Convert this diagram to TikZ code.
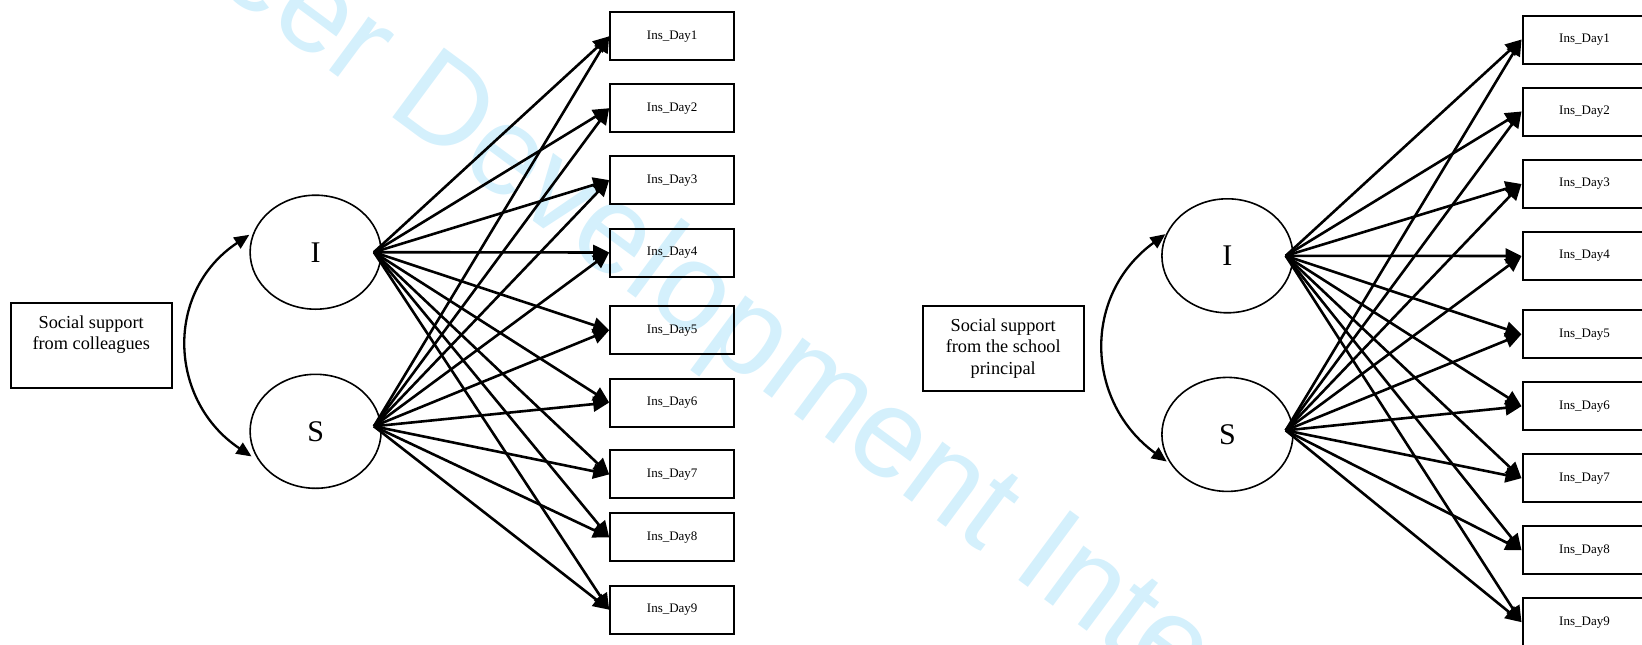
\documentclass[tikz,border=0pt]{standalone}
\usepackage{fontspec}
\setmainfont{Liberation Serif}
\newfontfamily\wmfont{Liberation Sans}
\usetikzlibrary{arrows.meta,shapes.geometric}
\definecolor{wmcyan}{RGB}{212,240,252}
\begin{document}
\begin{tikzpicture}[x=1pt,y=-1pt,
  latent/.style={ellipse,draw,line width=1.6pt,inner sep=0pt,minimum width=131pt,minimum height=114pt,font=\fontsize{30}{30}\selectfont},
  obs/.style={rectangle,draw,line width=2pt,inner sep=0pt,minimum width=124pt,minimum height=48pt,font=\fontsize{13}{13}\selectfont},
  covbox/.style={rectangle,draw,line width=2pt,inner sep=0pt,minimum width=161pt,minimum height=85pt,align=center,font=\fontsize{18.3}{21.2}\selectfont},
  load/.style={-{Triangle[length=16pt,width=15pt]},line width=2.6pt},
  corr/.style={{Triangle[length=15pt,width=13pt]}-{Triangle[length=15pt,width=13pt]},line width=2.3pt},
  watermark/.style={text=wmcyan,font=\wmfont\fontsize{126}{126}\selectfont,anchor=base west,rotate=-36.5,inner sep=0pt}
]
\useasboundingbox (0,0) rectangle (1642,645);
\clip (0,0) rectangle (1642,645);
\node[watermark] (wm) at (46.8,-138.7) {Career Development International};

% ---------- left panel ----------
\node[covbox] (Lsoc) at (91.2,345.4) {Social support\\from colleagues\\\phantom{p}};
\node[latent] (LI) at (315.6,252.2) {I};
\node[latent] (LS) at (315.6,431.3) {S};
\foreach \i/\y in {1/36.3,2/108.2,3/180.1,4/252.5,5/330.2,6/402.5,7/474.4,8/537.3,9/609.7}
  \node[obs] (Lb\i) at (672.2,\y) {Ins\_Day\i};
\coordinate (LIs) at ([xshift=-8pt]LI.east);
\coordinate (LSs) at ([xshift=-8pt,yshift=5pt]LS.east);
\foreach \i in {1,...,9}{
  \draw[load] (LIs) -- (Lb\i.west);
  \draw[load] (LSs) -- (Lb\i.west);
}
\draw[corr,shorten <=5pt,shorten >=9pt] (LI.162) .. controls +(-90,60) and +(-90,-60) .. (LS.208);

% ---------- right panel ----------
\node[covbox] (Rsoc) at (1003.2,348.4) {Social support\\from the school\\principal};
\node[latent] (RI) at (1227.4,255.8) {I};
\node[latent] (RS) at (1227.4,434.4) {S};
\foreach \i/\y in {1/39.5,2/111.5,3/184,4/256,5/334.2,6/406.2,7/478.2,8/550.2,9/622.2}
  \node[obs] (Rb\i) at (1584.5,\y) {Ins\_Day\i};
\coordinate (RIs) at ([xshift=-8pt]RI.east);
\coordinate (RSs) at ([xshift=-8pt,yshift=4pt]RS.east);
\foreach \i in {1,...,9}{
  \draw[load] (RIs) -- (Rb\i.west);
  \draw[load] (RSs) -- (Rb\i.west);
}
\draw[corr,shorten <=1pt,shorten >=5pt] (RI.160) .. controls +(-85,62) and +(-85,-62) .. (RS.208);
\end{tikzpicture}
\end{document}
